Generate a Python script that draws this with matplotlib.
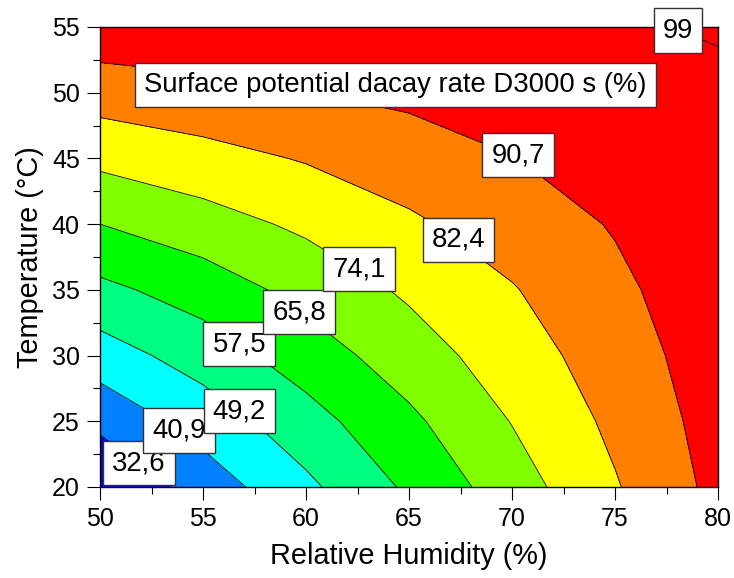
import numpy as np
import matplotlib
matplotlib.use("Agg")
import matplotlib.pyplot as plt
from matplotlib.ticker import MultipleLocator

plt.rcParams['font.family'] = ['Liberation Sans', 'DejaVu Sans']

# Grid of the response surface: relative humidity (%) x temperature (°C)
humidity = [50, 55, 60, 65, 70, 75, 80]
temperature = [20, 25, 30, 35, 40, 45, 50, 55]

# Decay rate D3000 s (%) per temperature row (one value per humidity column)
decay_t20 = [24.5, 36.3, 47.4, 58.9, 70.2, 81.7, 93.0]
decay_t25 = [34.7, 44.4, 54.3, 64.1, 74.4, 84.25, 94.0]
decay_t30 = [45.26, 53.04, 61.6, 70.1, 78.37, 86.6, 95.0]
decay_t35 = [55.5, 61.2, 68.53, 75.4, 81.87, 88.9, 96.0]
decay_t40 = [65.8, 70.65, 75.67, 81.08, 86.3, 91.3, 96.6]
decay_t45 = [76.13, 79.5, 83.0, 86.7, 90.5, 93.9, 97.4]
decay_t50 = [86.2, 88.3, 90.5, 92.5, 94.4, 96.4, 98.3]
decay_t55 = [96.0, 96.5, 97.0, 97.5, 98.0, 98.6, 99.3]

# Contour levels and fill colours of the bands
levels = [32.6, 40.9, 49.2, 57.5, 65.8, 74.1, 82.4, 90.7, 99.0]
band_colors = ['#0000FF', '#0080FF', '#00FFFF', '#00FF80', '#00FF00',
               '#80FF00', '#FFFF00', '#FF8000', '#FF0000', '#FF0000']

# Where each level's label box sits (RH, T)
label_pos = [(51.9, 21.8), (53.83, 24.3), (56.77, 25.78), (56.76, 30.87),
             (59.68, 33.3), (62.58, 36.57), (67.41, 38.82), (70.29, 45.26),
             (78.05, 54.73)]

title = "Surface potential dacay rate D3000 s (%)"

Z = np.array([decay_t20, decay_t25, decay_t30, decay_t35,
              decay_t40, decay_t45, decay_t50, decay_t55])
X, Y = np.meshgrid(humidity, temperature)

fig = plt.figure(figsize=(7.34, 5.78), dpi=100)
ax = fig.add_axes([100 / 734, 1 - 487 / 578, 618 / 734, 460 / 578])

fill_levels = [0] + levels + [200]
ax.contourf(X, Y, Z, levels=fill_levels, colors=band_colors)
ax.contour(X, Y, Z, levels=levels, colors='black', linewidths=0.6)

box = dict(boxstyle='square,pad=0.33', fc='white', ec='#333333', lw=1.0)
for lev, (px, py) in zip(levels, label_pos):
    txt = f"{lev:g}".replace('.', ',')
    ax.text(px, py, txt, ha='center', va='center', fontsize=19.8,
            bbox=box, zorder=5, clip_on=False)

ax.text(0.478, 0.874, title, transform=ax.transAxes, ha='center', va='center',
        fontsize=19.8, bbox=box, zorder=5)

ax.set_xlim(50, 80)
ax.set_ylim(20, 55)
ax.xaxis.set_major_locator(MultipleLocator(5))
ax.xaxis.set_minor_locator(MultipleLocator(2.5))
ax.yaxis.set_major_locator(MultipleLocator(5))
ax.yaxis.set_minor_locator(MultipleLocator(2.5))
ax.tick_params(which='both', direction='out', top=False, right=False,
               width=0.8, colors='black', labelsize=18)
ax.tick_params(which='major', length=9.5, pad=5)
ax.tick_params(which='minor', length=5)

for s in ax.spines.values():
    s.set_linewidth(1.0)
    s.set_color('black')
    s.set_zorder(4.5)

ax.set_xlabel('Relative Humidity (%)', fontsize=20.8, labelpad=8)
ax.set_ylabel('Temperature (°C)', fontsize=20.8, labelpad=6)

fig.savefig('out.png', dpi=100)
